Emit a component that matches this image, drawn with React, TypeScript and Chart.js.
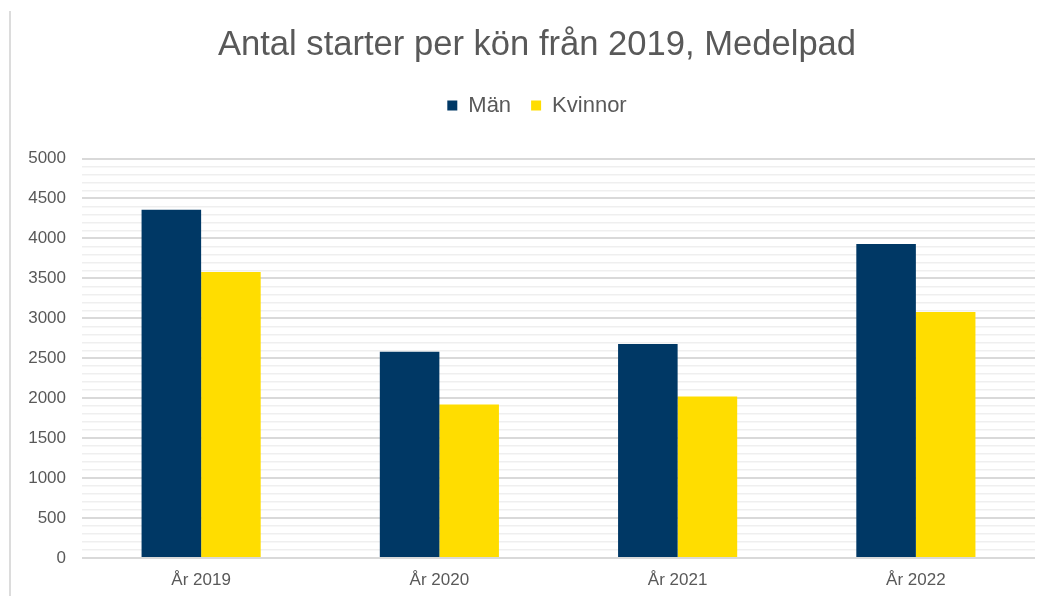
import React, { useEffect, useRef } from "react";
import { Chart, registerables } from "chart.js";

Chart.register(...registerables);

const categories = ["År 2019", "År 2020", "År 2021", "År 2022"];
const manValues = [4360, 2580, 2680, 3930];
const kvinnorValues = [3580, 1920, 2020, 3080];
const seriesNames = ["Män", "Kvinnor"];
const titleText = "Antal starter per kön från 2019, Medelpad";

const FONT = "'Liberation Sans', Arial, sans-serif";
const TEXT = "#595959";

export default function App() {
  const ref = useRef<HTMLCanvasElement | null>(null);

  useEffect(() => {
    if (!ref.current) return;
    const chart = new Chart(ref.current, {
      type: "bar",
      data: {
        labels: categories,
        datasets: [
          {
            label: seriesNames[0],
            data: manValues,
            backgroundColor: "#003865",
            categoryPercentage: 0.5,
            barPercentage: 1.0,
          },
          {
            label: seriesNames[1],
            data: kvinnorValues,
            backgroundColor: "#FFDD00",
            categoryPercentage: 0.5,
            barPercentage: 1.0,
          },
        ],
      },
      options: {
        responsive: false,
        devicePixelRatio: 1,
        animation: false,
        layout: { padding: { left: 0, right: 0, top: 0, bottom: 0 } },
        plugins: {
          title: {
            display: true,
            text: titleText,
            color: TEXT,
            font: { family: FONT, size: 34.6, weight: "normal", lineHeight: 1.2 },
            padding: { top: 25, bottom: 8 },
          },
          subtitle: {
            display: true,
            text: "",
            weight: 500,
            font: { family: FONT, size: 10, lineHeight: 1 },
            padding: { top: 22, bottom: 0 },
          } as any,
          legend: {
            display: true,
            position: "top",
            labels: {
              color: TEXT,
              font: { family: FONT, size: 22 },
              boxWidth: 10,
              boxHeight: 10,
              padding: 20,
            },
          },
          tooltip: { enabled: false },
        },
        scales: {
          x: {
            grid: { display: false, drawTicks: false },
            border: { display: false },
            ticks: {
              color: TEXT,
              font: { family: FONT, size: 17 },
              padding: 12,
            },
            afterFit: (scale: any) => {
              scale.height = 38;
            },
          },
          y: {
            min: 0,
            max: 5000,
            border: { display: false },
            grid: {
              drawTicks: false,
              color: (ctx: any) =>
                ctx.tick && ctx.tick.value % 500 === 0 ? "#d9d9d9" : "#efefef",
              lineWidth: (ctx: any) =>
                ctx.tick && ctx.tick.value % 500 === 0 ? 2 : 1.5,
            },
            ticks: {
              stepSize: 100,
              autoSkip: false,
              color: TEXT,
              font: { family: FONT, size: 17 },
              padding: 16,
              callback: (v: any) => (Number(v) % 500 === 0 ? String(v) : ""),
            },
            afterFit: (scale: any) => {
              scale.width = 73;
            },
          },
          ySpacer: {
            type: "linear",
            position: "right",
            display: true,
            min: 0,
            max: 5000,
            grid: { display: false, drawTicks: false },
            border: { display: false },
            ticks: { display: false },
            afterFit: (scale: any) => {
              scale.width = 30;
            },
          },
        },
      },
    });
    return () => chart.destroy();
  }, []);

  return (
    <div
      style={{
        position: "fixed",
        left: 0,
        top: 0,
        width: 1050,
        height: 596,
        overflow: "hidden",
        background: "#ffffff",
      }}
    >
      <canvas
        ref={ref}
        width={1056}
        height={596}
        style={{ position: "absolute", left: 9, top: 0, width: 1056, height: 596 }}
      />
      <div
        style={{
          position: "absolute",
          left: 9,
          top: 11,
          width: 2,
          height: 585,
          background: "#dcdcdc",
        }}
      />
    </div>
  );
}
